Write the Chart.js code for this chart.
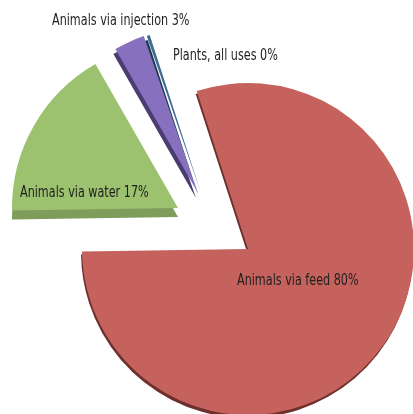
<!DOCTYPE html>
<html>
<head>
<meta charset="utf-8">
<script src="https://cdn.jsdelivr.net/npm/chart.js@4.4.1/dist/chart.umd.min.js"></script>
<style>
  html, body { margin: 0; padding: 0; background: #fff; }
  canvas { display: block; }
</style>
</head>
<body>
<canvas id="pieChart" width="413" height="414"></canvas>
<script>
const categories = ['Animals via feed', 'Animals via water', 'Animals via injection', 'Plants, all uses'];
const shares = [80, 17, 3, 0.3];
const shareLabels = ['80%', '17%', '3%', '0%'];

const fillColors = ['#C6625D', '#9CC26F', '#8770BE', '#3F6E94'];
const edgeColors = ['#6E302D', '#7E9D5A', '#4B3D73', '#1F3A52'];
// pull-out of each slice from the pie, [dx, dy]
const sliceShift = [[0, 0], [-70, -41], [-50, -56], [-47, -56]];
// thickness of the dark rim under each slice, [dx, dy]
const sliceDepth = [[-1, 3], [0, 9], [-2, 5], [-2, 5]];
const labelSpots = [[237, 281], [20, 193], [52, 21], [173, 56]];
const labelFont = '15px "Liberation Sans Narrow", "DejaVu Sans Condensed", "Arial Narrow", sans-serif';
const labelSquash = 0.83;

// moves slices out, draws the dark "3D" rim and the labels
const explodePlugin = {
    id: 'explode',
    afterDatasetsUpdate(chart) {
        chart.getDatasetMeta(0).data.forEach((arc, i) => {
            arc.x += sliceShift[i][0];
            arc.y += sliceShift[i][1];
        });
    },
    beforeDatasetsDraw(chart) {
        const ctx = chart.ctx;
        chart.getDatasetMeta(0).data.forEach((arc, i) => {
            ctx.save();
            ctx.translate(sliceDepth[i][0], sliceDepth[i][1]);
            ctx.beginPath();
            ctx.moveTo(arc.x, arc.y);
            ctx.arc(arc.x, arc.y, arc.outerRadius, arc.startAngle, arc.endAngle);
            ctx.closePath();
            ctx.fillStyle = edgeColors[i];
            ctx.fill();
            ctx.restore();
        });
    },
    afterDatasetsDraw(chart) {
        const ctx = chart.ctx;
        categories.forEach((name, i) => {
            ctx.save();
            ctx.translate(labelSpots[i][0], labelSpots[i][1]);
            ctx.scale(labelSquash, 1);
            ctx.font = labelFont;
            ctx.fillStyle = '#1f1f1f';
            ctx.textAlign = 'left';
            ctx.textBaseline = 'middle';
            ctx.fillText(name + ' ' + shareLabels[i], 0, 0);
            ctx.restore();
        });
    }
};

const ctx = document.getElementById('pieChart').getContext('2d');
const chart = new Chart(ctx, {
    type: 'pie',
    data: {
        labels: categories,
        datasets: [{
            data: shares,
            backgroundColor: fillColors,
            borderWidth: 0
        }]
    },
    options: {
        responsive: false,
        animation: false,
        events: [],
        rotation: -18,
        radius: 166,
        layout: {
            padding: { left: 83, top: 84, right: 0, bottom: 0 }
        },
        plugins: {
            legend: { display: false },
            tooltip: { enabled: false }
        }
    },
    plugins: [explodePlugin]
});
</script>
</body>
</html>
